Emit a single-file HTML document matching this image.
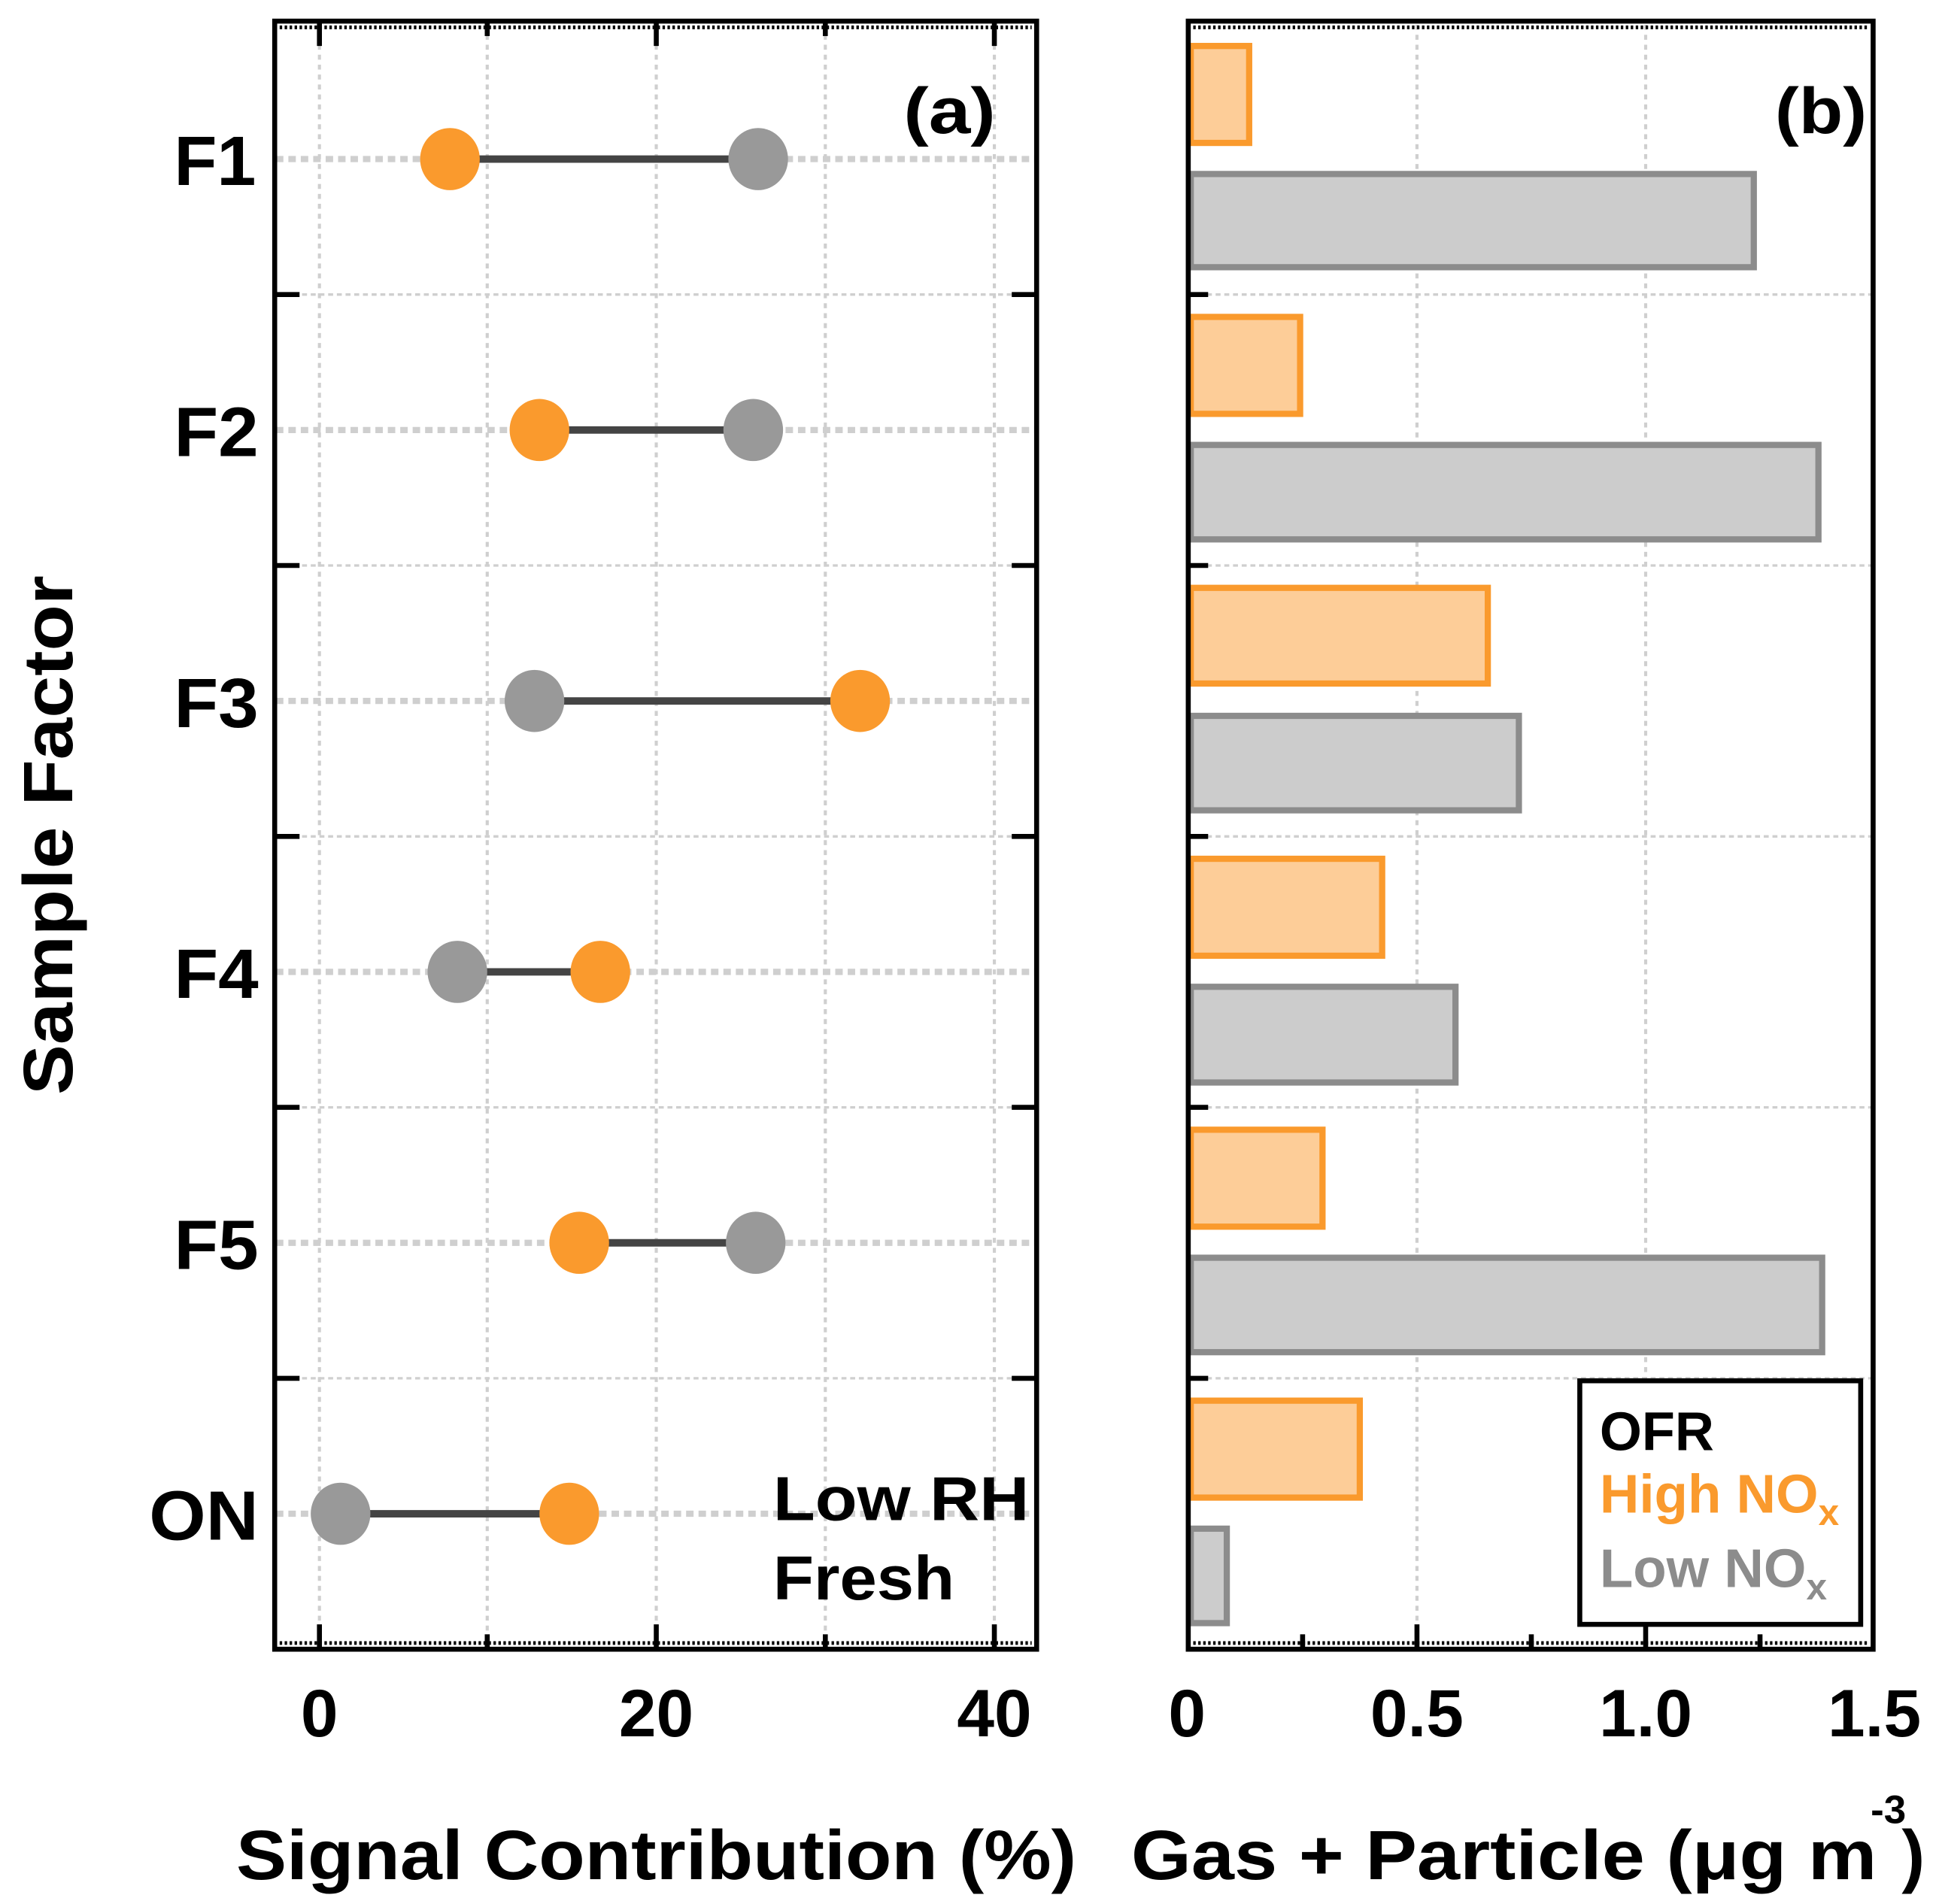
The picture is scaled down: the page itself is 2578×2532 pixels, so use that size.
<!DOCTYPE html>
<html><head><meta charset="utf-8"><style>html,body{margin:0;padding:0;background:#fff}svg{display:block}</style></head>
<body>
<svg width="2578" height="2532" viewBox="0 0 1560 1532" preserveAspectRatio="none" xmlns="http://www.w3.org/2000/svg" font-family="Liberation Sans, Arial, sans-serif" font-weight="bold">
<g stroke="#cfcfcf" fill="none">
  <!-- panel a vertical grid -->
  <g stroke-width="2.5" stroke-dasharray="4,4">
    <line x1="257" y1="20" x2="257" y2="1324"/><line x1="392" y1="20" x2="392" y2="1324"/>
    <line x1="528" y1="20" x2="528" y2="1324"/><line x1="664" y1="20" x2="664" y2="1324"/>
    <line x1="800" y1="20" x2="800" y2="1324"/>
    <line x1="1140" y1="20" x2="1140" y2="1324"/><line x1="1324" y1="20" x2="1324" y2="1324"/>
  </g>
  <g stroke-width="2" stroke-dasharray="4,3">
    <line x1="222" y1="237" x2="833" y2="237"/><line x1="222" y1="455" x2="833" y2="455"/>
    <line x1="222" y1="673" x2="833" y2="673"/><line x1="222" y1="891" x2="833" y2="891"/>
    <line x1="222" y1="1109" x2="833" y2="1109"/>
    <line x1="957" y1="237" x2="1506" y2="237"/><line x1="957" y1="455" x2="1506" y2="455"/>
    <line x1="957" y1="673" x2="1506" y2="673"/><line x1="957" y1="891" x2="1506" y2="891"/>
    <line x1="957" y1="1109" x2="1506" y2="1109"/>
  </g>
  <g stroke-width="5" stroke-dasharray="6,4">
    <line x1="222" y1="128" x2="833" y2="128"/><line x1="222" y1="346" x2="833" y2="346"/>
    <line x1="222" y1="564" x2="833" y2="564"/><line x1="222" y1="782" x2="833" y2="782"/>
    <line x1="222" y1="1000" x2="833" y2="1000"/><line x1="222" y1="1218" x2="833" y2="1218"/>
  </g>
</g>
<!-- panel a data -->
<g stroke="#444" stroke-width="6">
  <line x1="362" y1="128" x2="610" y2="128"/><line x1="434" y1="346" x2="606" y2="346"/>
  <line x1="430" y1="564" x2="692" y2="564"/><line x1="368" y1="782" x2="483" y2="782"/>
  <line x1="466" y1="1000" x2="608" y2="1000"/><line x1="274" y1="1218" x2="458" y2="1218"/>
</g>
<g>
  <ellipse cx="362" cy="128" rx="24" ry="25" fill="#FA9A2D"/><ellipse cx="610" cy="128" rx="24" ry="25" fill="#999"/>
  <ellipse cx="434" cy="346" rx="24" ry="25" fill="#FA9A2D"/><ellipse cx="606" cy="346" rx="24" ry="25" fill="#999"/>
  <ellipse cx="430" cy="564" rx="24" ry="25" fill="#999"/><ellipse cx="692" cy="564" rx="24" ry="25" fill="#FA9A2D"/>
  <ellipse cx="368" cy="782" rx="24" ry="25" fill="#999"/><ellipse cx="483" cy="782" rx="24" ry="25" fill="#FA9A2D"/>
  <ellipse cx="466" cy="1000" rx="24" ry="25" fill="#FA9A2D"/><ellipse cx="608" cy="1000" rx="24" ry="25" fill="#999"/>
  <ellipse cx="274" cy="1218" rx="24" ry="25" fill="#999"/><ellipse cx="458" cy="1218" rx="24" ry="25" fill="#FA9A2D"/>
</g>
<!-- panel b bars -->
<g stroke-width="5">
  <rect x="958" y="37" width="47" height="78" fill="#FDCD98" stroke="#FA9A2D"/>
  <rect x="958" y="140" width="453" height="75" fill="#CCC" stroke="#8C8C8C"/>
  <rect x="958" y="255" width="88" height="78" fill="#FDCD98" stroke="#FA9A2D"/>
  <rect x="958" y="358" width="505" height="76" fill="#CCC" stroke="#8C8C8C"/>
  <rect x="958" y="473" width="239" height="77" fill="#FDCD98" stroke="#FA9A2D"/>
  <rect x="958" y="576" width="264" height="76" fill="#CCC" stroke="#8C8C8C"/>
  <rect x="958" y="691" width="154" height="78" fill="#FDCD98" stroke="#FA9A2D"/>
  <rect x="958" y="794" width="213" height="77" fill="#CCC" stroke="#8C8C8C"/>
  <rect x="958" y="909" width="106" height="78" fill="#FDCD98" stroke="#FA9A2D"/>
  <rect x="958" y="1012" width="508" height="76" fill="#CCC" stroke="#8C8C8C"/>
  <rect x="958" y="1127" width="136" height="78" fill="#FDCD98" stroke="#FA9A2D"/>
  <rect x="958" y="1230" width="29" height="76" fill="#CCC" stroke="#8C8C8C"/>
</g>
<!-- axes frames -->
<g fill="none" stroke="#000">
  <rect x="221" y="17" width="613" height="1310" stroke-width="4"/>
  <rect x="956" y="17" width="551" height="1310" stroke-width="4"/>
  <g stroke-width="3" stroke-dasharray="2,2">
    <line x1="225" y1="22" x2="830" y2="22"/><line x1="225" y1="1322" x2="830" y2="1322"/>
    <line x1="960" y1="22" x2="1503" y2="22"/><line x1="960" y1="1322" x2="1503" y2="1322"/>
  </g>
  <g stroke-width="4">
    <line x1="257" y1="1327" x2="257" y2="1307"/><line x1="392" y1="1327" x2="392" y2="1315"/>
    <line x1="528" y1="1327" x2="528" y2="1307"/><line x1="664" y1="1327" x2="664" y2="1315"/>
    <line x1="800" y1="1327" x2="800" y2="1307"/>
    <line x1="257" y1="17" x2="257" y2="37"/><line x1="392" y1="17" x2="392" y2="29"/>
    <line x1="528" y1="17" x2="528" y2="37"/><line x1="664" y1="17" x2="664" y2="29"/>
    <line x1="800" y1="17" x2="800" y2="37"/>
    <line x1="1048" y1="1327" x2="1048" y2="1315"/><line x1="1140" y1="1327" x2="1140" y2="1307"/>
    <line x1="1232" y1="1327" x2="1232" y2="1315"/><line x1="1324" y1="1327" x2="1324" y2="1307"/>
    <line x1="1416" y1="1327" x2="1416" y2="1315"/>
    <line x1="221" y1="237" x2="241" y2="237"/><line x1="221" y1="455" x2="241" y2="455"/>
    <line x1="221" y1="673" x2="241" y2="673"/><line x1="221" y1="891" x2="241" y2="891"/>
    <line x1="221" y1="1109" x2="241" y2="1109"/>
    <line x1="834" y1="237" x2="814" y2="237"/><line x1="834" y1="455" x2="814" y2="455"/>
    <line x1="834" y1="673" x2="814" y2="673"/><line x1="834" y1="891" x2="814" y2="891"/>
    <line x1="834" y1="1109" x2="814" y2="1109"/>
    <line x1="956" y1="237" x2="972" y2="237"/><line x1="956" y1="455" x2="972" y2="455"/>
    <line x1="956" y1="673" x2="972" y2="673"/><line x1="956" y1="891" x2="972" y2="891"/>
    <line x1="956" y1="1109" x2="972" y2="1109"/>
  </g>
  <rect x="1271" y="1111" width="226" height="196" stroke-width="4" fill="#fff"/>
</g>
<!-- text -->
<g font-size="56" fill="#000">
  <text x="206" y="149" text-anchor="end" textLength="66" lengthAdjust="spacingAndGlyphs">F1</text>
  <text x="208" y="367" text-anchor="end" textLength="68" lengthAdjust="spacingAndGlyphs">F2</text>
  <text x="208" y="585" text-anchor="end" textLength="68" lengthAdjust="spacingAndGlyphs">F3</text>
  <text x="208" y="803" text-anchor="end" textLength="68" lengthAdjust="spacingAndGlyphs">F4</text>
  <text x="208" y="1021" text-anchor="end" textLength="68" lengthAdjust="spacingAndGlyphs">F5</text>
  <text x="208" y="1239" text-anchor="end" textLength="88" lengthAdjust="spacingAndGlyphs">ON</text>
</g>
<g font-size="54" fill="#000" text-anchor="middle">
  <text x="257" y="1397">0</text><text x="528" y="1397">20</text><text x="800" y="1397">40</text>
  <text x="955" y="1397">0</text><text x="1140" y="1397">0.5</text><text x="1324" y="1397">1.0</text><text x="1508" y="1397">1.5</text>
</g>
<text x="190" y="1512" font-size="56" textLength="676" lengthAdjust="spacingAndGlyphs">Signal Contribution (%)</text>
<text x="910" y="1512" font-size="56" textLength="600" lengthAdjust="spacingAndGlyphs">Gas + Particle (μg m</text>
<text x="1505" y="1467" font-size="32">-3</text>
<text x="1530" y="1512" font-size="56">)</text>
<text transform="translate(58,672) rotate(-90)" font-size="56" text-anchor="middle" textLength="418" lengthAdjust="spacingAndGlyphs">Sample Factor</text>
<text x="727" y="107" font-size="52" textLength="74" lengthAdjust="spacingAndGlyphs">(a)</text>
<text x="1428" y="107" font-size="52" textLength="74" lengthAdjust="spacingAndGlyphs">(b)</text>
<text x="622" y="1223" font-size="50" textLength="206" lengthAdjust="spacingAndGlyphs">Low RH</text>
<text x="622" y="1287" font-size="50" textLength="146" lengthAdjust="spacingAndGlyphs">Fresh</text>
<g font-size="44">
  <text x="1287" y="1167" fill="#000" textLength="92" lengthAdjust="spacingAndGlyphs">OFR</text>
  <text x="1287" y="1217" fill="#FA9A2D">High NO<tspan font-size="30" dy="10">x</tspan></text>
  <text x="1287" y="1277" fill="#8C8C8C">Low NO<tspan font-size="30" dy="10">x</tspan></text>
</g>
</svg>
</body></html>
